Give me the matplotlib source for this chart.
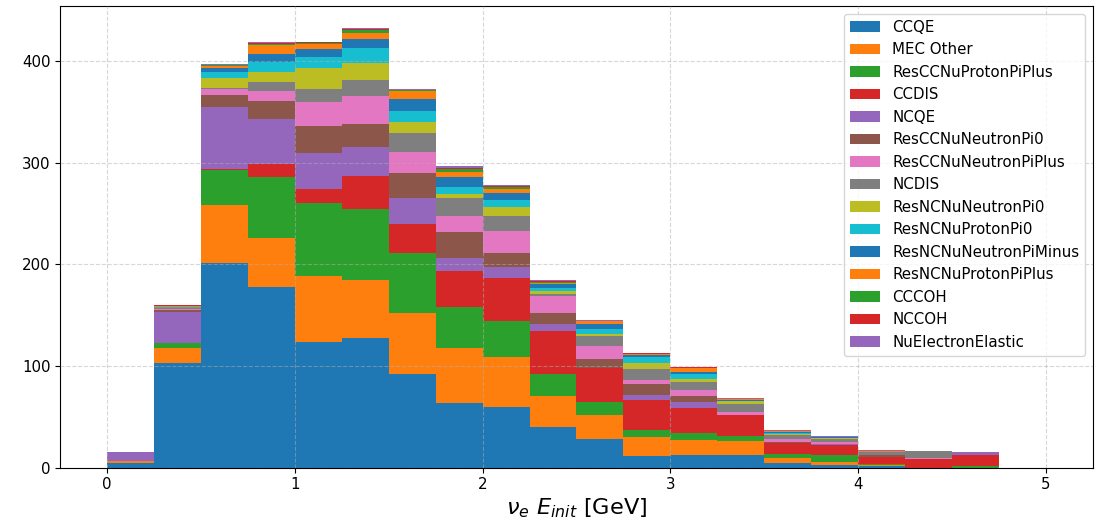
import numpy as np
import matplotlib
matplotlib.use("Agg")
import matplotlib.pyplot as plt

plt.rcParams["font.size"] = 10.8

# Energy binning (GeV)
bin_edges = np.linspace(0.0, 5.0, 21)

labels = [
    "CCQE", "MEC Other", "ResCCNuProtonPiPlus", "CCDIS", "NCQE",
    "ResCCNuNeutronPi0", "ResCCNuNeutronPiPlus", "NCDIS", "ResNCNuNeutronPi0",
    "ResNCNuProtonPi0", "ResNCNuNeutronPiMinus", "ResNCNuProtonPiPlus",
    "CCCOH", "NCCOH", "NuElectronElastic",
]

# Event counts per bin for each interaction mode
ccqe = [4.3, 103.3, 201.3, 177.7, 123.9, 127.9, 92.1, 63.6, 59.7, 39.7, 27.9, 11.1, 12.4, 12.4, 4.9, 2.6, 2.0, 0, 0, 0]
mec_other = [2.0, 14.4, 57.1, 48.2, 64.6, 56.7, 60.0, 54.1, 49.2, 30.5, 23.6, 18.7, 14.8, 13.8, 4.9, 3.0, 0.9, 0, 0, 0]
res_cc_p_piplus = [0, 4.6, 34.7, 60.0, 71.8, 69.8, 59.0, 40.3, 35.4, 21.6, 12.8, 6.9, 6.8, 4.9, 3.9, 6.5, 1.0, 0, 2.0, 0]
ccdis = [0, 0.3, 0.9, 12.8, 13.8, 32.5, 28.6, 35.4, 42.3, 42.3, 33.4, 29.5, 24.6, 20.6, 10.8, 9.8, 6.6, 8.5, 10.4, 0]
ncqe = [9.1, 30.8, 60.8, 44.3, 35.4, 28.5, 25.5, 12.8, 10.8, 6.9, 0.3, 4.9, 5.9, 0, 0, 1.3, 0, 0, 0, 0]
res_cc_n_pi0 = [0, 1.8, 11.8, 17.7, 26.5, 22.6, 24.6, 25.6, 13.7, 10.8, 8.9, 10.9, 5.9, 0, 0.5, 0, 1.9, 0, 0, 0]
res_cc_n_piplus = [0, 0.8, 5.9, 9.8, 23.7, 27.6, 20.7, 15.7, 21.7, 16.7, 12.7, 3.9, 5.9, 3.0, 3.4, 2.0, 0, 1.0, 0, 0]
ncdis = [0, 0.8, 0.9, 8.8, 12.8, 15.7, 18.7, 17.7, 14.7, 2.0, 9.9, 10.8, 7.8, 7.8, 3.3, 2.6, 3.3, 6.5, 0, 0]
res_nc_n_pi0 = [0, 0.5, 9.9, 9.9, 20.6, 16.7, 10.8, 4.0, 8.9, 2.9, 1.9, 5.9, 3.0, 3.0, 1.3, 1.0, 0, 0, 0, 0]
res_nc_p_pi0 = [0, 0.6, 5.9, 9.8, 10.8, 14.8, 10.8, 6.9, 6.9, 3.0, 5.0, 5.9, 4.9, 0.5, 1.0, 0.5, 0, 0, 0, 0]
res_nc_n_piminus = [0, 0.4, 3.6, 7.9, 7.9, 8.8, 11.8, 9.8, 6.9, 3.9, 4.9, 2.0, 1.9, 0.8, 0.7, 0.5, 0, 0, 0, 0]
res_nc_p_piplus = [0, 0.6, 2.0, 8.8, 5.2, 5.9, 7.9, 4.9, 3.9, 1.0, 2.6, 1.0, 4.0, 0.5, 1.3, 0.3, 1.0, 0, 0, 0]
cccoh = [0, 0.5, 0.9, 1.3, 1.0, 3.0, 1.0, 3.0, 2.0, 1.0, 0.4, 0, 0, 0, 0, 0, 0, 0, 0, 0]
nccoh = [0, 0.3, 0.6, 1.0, 0.5, 1.0, 0.5, 1.2, 1.3, 1.0, 0.4, 1.0, 1.0, 0.7, 0, 0, 0, 0, 0, 0]
nu_e_elastic = [0, 0.3, 0.7, 0.7, 0.5, 1.0, 0.5, 1.7, 1.0, 1.0, 0.5, 0.3, 0, 0.5, 1.0, 1.3, 0.6, 0, 2.7, 0]

series = [
    ccqe, mec_other, res_cc_p_piplus, ccdis, ncqe, res_cc_n_pi0, res_cc_n_piplus,
    ncdis, res_nc_n_pi0, res_nc_p_pi0, res_nc_n_piminus, res_nc_p_piplus,
    cccoh, nccoh, nu_e_elastic,
]

tab10 = plt.get_cmap("tab10").colors
colors = [tab10[i % 10] for i in range(len(series))]

centers = 0.5 * (bin_edges[:-1] + bin_edges[1:])

fig = plt.figure(figsize=(10.96, 5.24), dpi=100)
ax = fig.add_axes([0.055, 0.1075, 0.942, 0.881])

ax.hist([centers] * len(series), bins=bin_edges,
        weights=[np.asarray(s, dtype=float) for s in series],
        stacked=True, histtype="bar", color=colors, label=labels)

ax.set_axisbelow(False)
ax.grid(True, linestyle="--", color="#b0b0b0", alpha=0.5)
ax.set_xlabel(r"$\nu_e\ E_{init}$ [GeV]", fontsize=16.2, labelpad=3)
ax.legend(loc="upper right")

fig.savefig("out.png", dpi=100)
